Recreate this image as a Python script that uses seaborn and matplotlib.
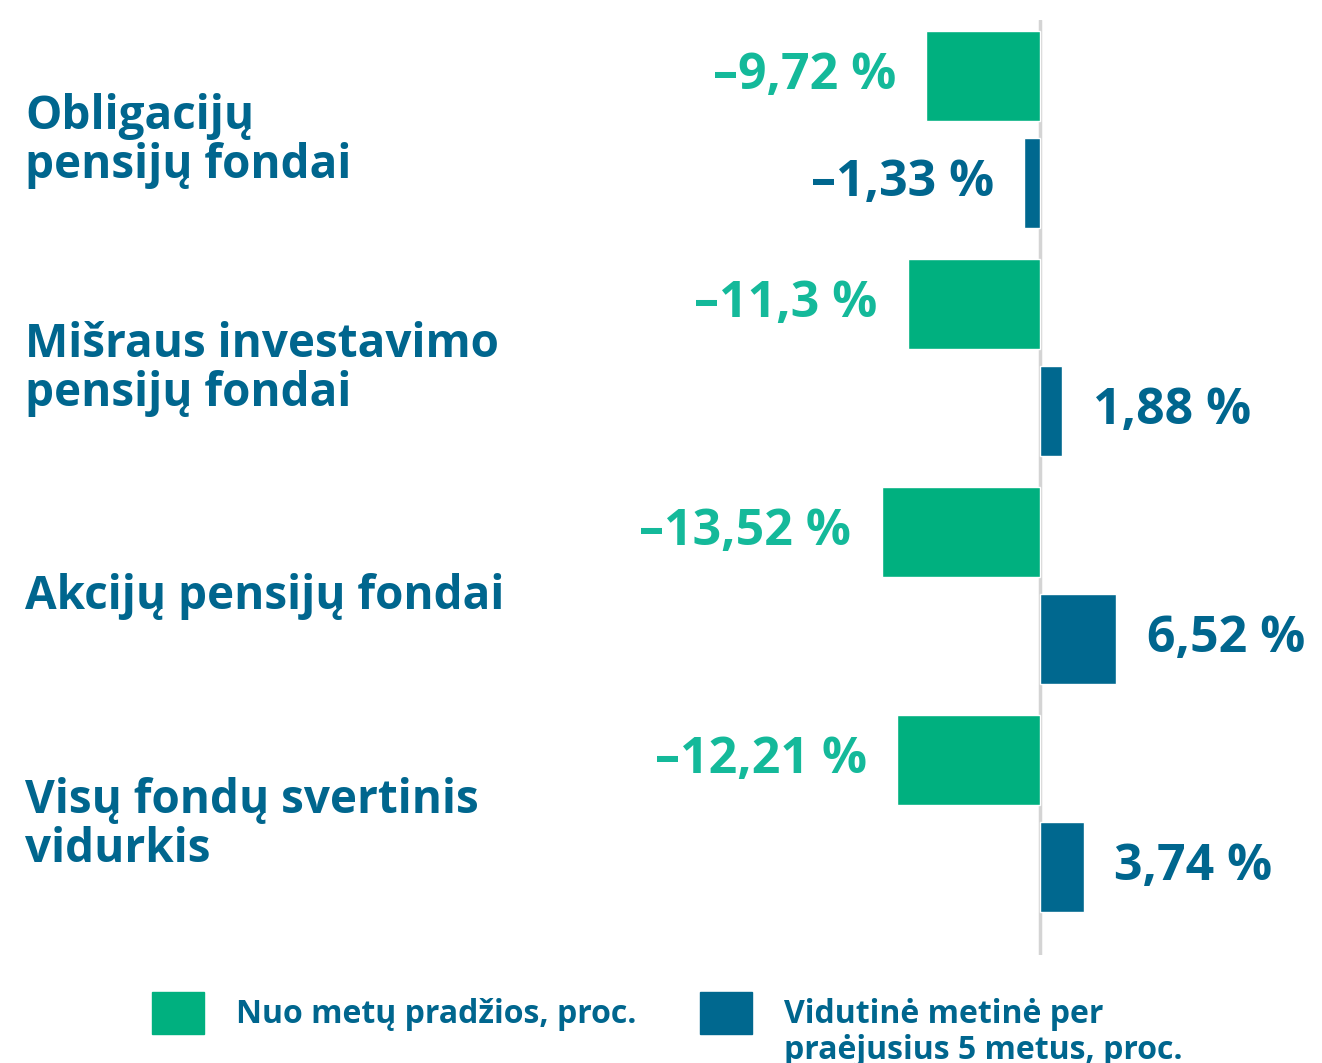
"""
Pension funds returns: year-to-date vs. average annual over the past 5 years.
Horizontal grouped bar chart built with seaborn.
"""

import pandas as pd
import matplotlib
matplotlib.use("Agg")
import matplotlib.pyplot as plt
import seaborn as sns

# 1. DATA
categories = [
    "Obligacijų\npensijų fondai",
    "Mišraus investavimo\npensijų fondai",
    "Akcijų pensijų fondai",
    "Visų fondų svertinis\nvidurkis",
]
series_names = ["Nuo metų pradžios, proc.", "Vidutinė metinė per"]
series_extra_line = "praėjusius 5 metus, proc."
ytd_values = [-9.72, -11.3, -13.52, -12.21]
five_year_values = [-1.33, 1.88, 6.52, 3.74]

# colours
bar_colors = ["#00b07f", "#00688f"]
text_colors = ["#14b99a", "#00668e"]

# long format table for seaborn
df = pd.DataFrame({
    "category": categories * 2,
    "series": [series_names[0]] * 4 + [series_names[1]] * 4,
    "value": ytd_values + five_year_values,
})


def fmt(v):
    # lithuanian style: en dash for minus, comma as decimal separator
    s = f"{abs(v):g}".replace(".", ",") + " %"
    return ("–" + s) if v < 0 else s


# 2. PLOT
sns.set_theme(style="white")
plt.rcParams["font.family"] = ["Open Sans", "DejaVu Sans"]

W, H = 1322, 1063
fig = plt.figure(figsize=(W / 100, H / 100), dpi=100)
ax = fig.add_axes([0, 1 - 955 / H, 1, 935 / H])

sns.barplot(
    data=df, x="value", y="category", hue="series", orient="h",
    palette=bar_colors, width=0.936, gap=0.158, saturation=1,
    legend=False, ax=ax,
)

# zero line
ax.axvline(0, color="#d4d4d4", lw=2.5, zorder=0)

ax.set_xlim(-88.9, 24.1)
ax.set_ylim(3.62, -0.48)

# value labels next to each bar
for cont, vals, col in zip(ax.containers, [ytd_values, five_year_values], text_colors):
    ax.bar_label(cont, labels=[fmt(v) for v in vals], padding=22,
                 color=col, fontsize=36, fontweight="bold")

# category labels on the left
for i, name in enumerate(categories):
    ax.text(25 / W, i + 0.05, name, transform=ax.get_yaxis_transform(),
            ha="left", va="center", fontsize=33, fontweight="bold",
            color="#00668e", linespacing=1.07)

ax.set_xlabel("")
ax.set_ylabel("")
ax.set_xticks([])
ax.set_yticks([])
sns.despine(ax=ax, left=True, bottom=True)

# 3. LEGEND
handles = [plt.Rectangle((0, 0), 1, 1, color=c) for c in bar_colors]
leg = fig.legend(
    handles, series_names, loc="upper left",
    bbox_to_anchor=(152 / W, 1 - 992 / H), ncol=2, frameon=False,
    fontsize=23, handlelength=1.63, handleheight=1.63,
    handletextpad=1.0, columnspacing=2.0, borderaxespad=0, borderpad=0,
)
for t in leg.get_texts():
    t.set_color("#00668e")
    t.set_fontweight("bold")

# second line of the second legend entry, placed under its first line
fig.canvas.draw()
bb = leg.get_texts()[1].get_window_extent().transformed(fig.transFigure.inverted())
fig.text(bb.x0, bb.y0 - 3 / H, series_extra_line, ha="left", va="top",
         fontsize=23, fontweight="bold", color="#00668e")

fig.savefig("out.png", dpi=100)
